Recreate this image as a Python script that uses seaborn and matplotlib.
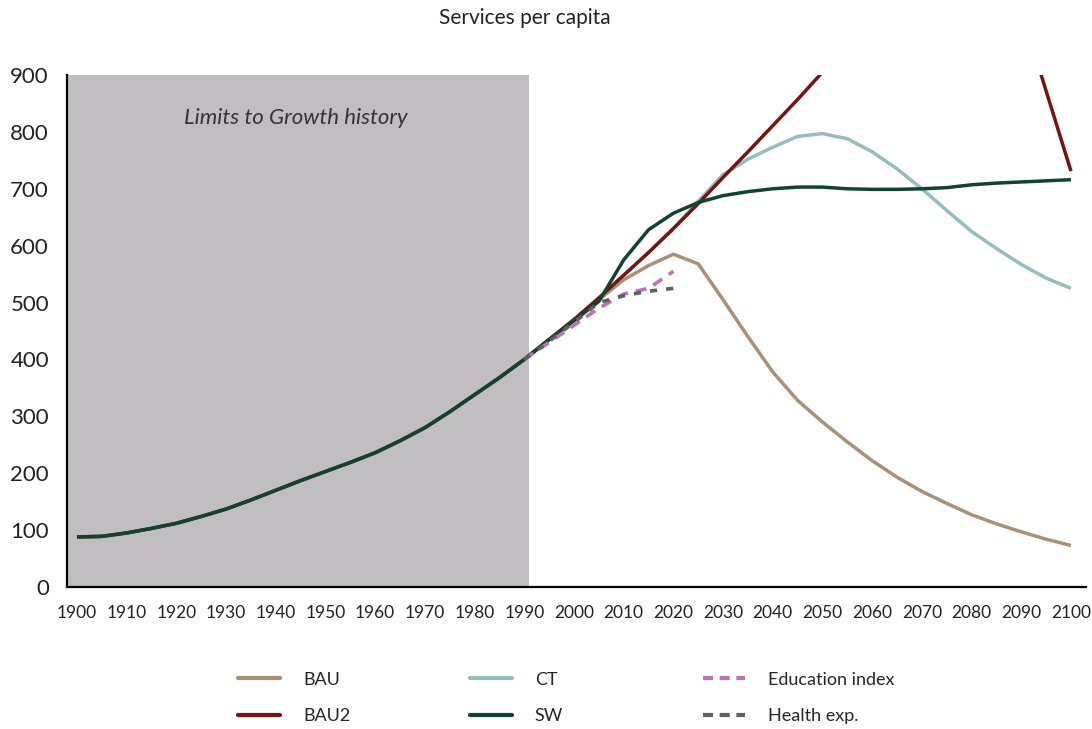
import matplotlib
matplotlib.use("Agg")
import matplotlib.pyplot as plt
import seaborn as sns
import pandas as pd
from matplotlib.lines import Line2D

#%% data
hist_years = list(range(1900, 1991, 5))
hist_vals = [88, 89, 95, 103, 112, 124, 137, 153, 170, 187, 203, 219, 236, 257, 280, 308, 338, 368, 400]

fut_years = list(range(1995, 2101, 5))
bau = [435, 470, 505, 540, 565, 585, 568, 505, 440, 378, 328, 290, 255, 222, 193, 168, 147, 127, 111, 97, 84, 73]
bau2 = [435, 470, 508, 548, 588, 630, 674, 720, 765, 811, 857, 905, 950, 990, 1020, 1045, 1060, 1065, 1055, 1013, 872, 731]
ct = [435, 470, 508, 548, 588, 630, 678, 725, 752, 773, 792, 797, 788, 765, 735, 700, 662, 625, 595, 567, 543, 525]
sw = [435, 468, 502, 575, 628, 657, 676, 688, 695, 700, 703, 703, 700, 699, 699, 700, 702, 707, 710, 712, 714, 716]

obs_years = [1990, 1995, 2000, 2005, 2010, 2015, 2020]
education = [400, 430, 460, 490, 515, 525, 555]
health = [400, 432, 465, 500, 512, 520, 525]

xticks = list(range(1900, 2101, 10))
yticks = list(range(0, 901, 100))

#%% styling
sns.set_theme(style="white")
plt.rcParams['font.family'] = ['Lato', 'DejaVu Sans']

fig = plt.figure(figsize=(10.92, 7.29), dpi=100)
ax = fig.add_axes([0.0614, 0.1948, 0.933, 0.7023])

ax.axvspan(1898, 1991, color='#c0bec1', zorder=0, lw=0)
ax.text(1944, 824, 'Limits to Growth history', style='italic', fontsize=16,
        ha='center', va='center', color='#333333')

years_all = hist_years + fut_years
series = [
    ('BAU', bau, '#a99175'),
    ('CT', ct, '#92bfbd'),
    ('BAU2', bau2, '#7a1214'),
    ('SW', sw, '#0f4431'),
]
for name, vals, col in series:
    sns.lineplot(x=years_all, y=hist_vals + vals, color=col, lw=2.5, ax=ax,
                 label=name, solid_capstyle='butt')

sns.lineplot(x=obs_years, y=education, color='#c070b8', lw=2.6,
             linestyle=(0, (3, 2.2)), ax=ax, label='Education index')
sns.lineplot(x=obs_years, y=health, color='#5f5f63', lw=2.6,
             linestyle=(0, (2, 2.5)), ax=ax, label='Health exp.')

ax.set_xlim(1898, 2103)
ax.set_ylim(0, 900)
ax.set_xticks(xticks)
ax.set_yticks(yticks)
ax.tick_params(axis='x', length=0, pad=13, labelsize=12.5, colors='#222222')
ax.tick_params(axis='y', length=0, pad=13, labelsize=16, colors='#222222')
sns.despine(ax=ax)
for s in ['left', 'bottom']:
    ax.spines[s].set_color('black')
    ax.spines[s].set_linewidth(1.6)
ax.set_xlabel('')
ax.set_ylabel('')

fig.text(0.481, 0.975, 'Services per capita', ha='center', va='center',
         fontsize=15, color='#222222')

# legend: three columns placed like the original
h, l = ax.get_legend_handles_labels()
lookup = dict(zip(l, h))
ax.get_legend().remove()
columns = [(['BAU', 'BAU2'], 0.218), (['CT', 'SW'], 0.430),
           (['Education index', 'Health exp.'], 0.644)]
for names, xpos in columns:
    hs = []
    for name in names:
        ls = (0, (2.4, 1.6)) if name in ('Education index', 'Health exp.') else '-'
        hs.append(Line2D([], [], color=lookup[name].get_color(), lw=3, linestyle=ls))
    fig.legend(hs, names, loc='center left', bbox_to_anchor=(xpos, 0.0425),
               frameon=False, fontsize=13, handlelength=2.33, handletextpad=1.28,
               labelspacing=1.15, borderpad=0, borderaxespad=0)

fig.savefig('out.png', dpi=100)
